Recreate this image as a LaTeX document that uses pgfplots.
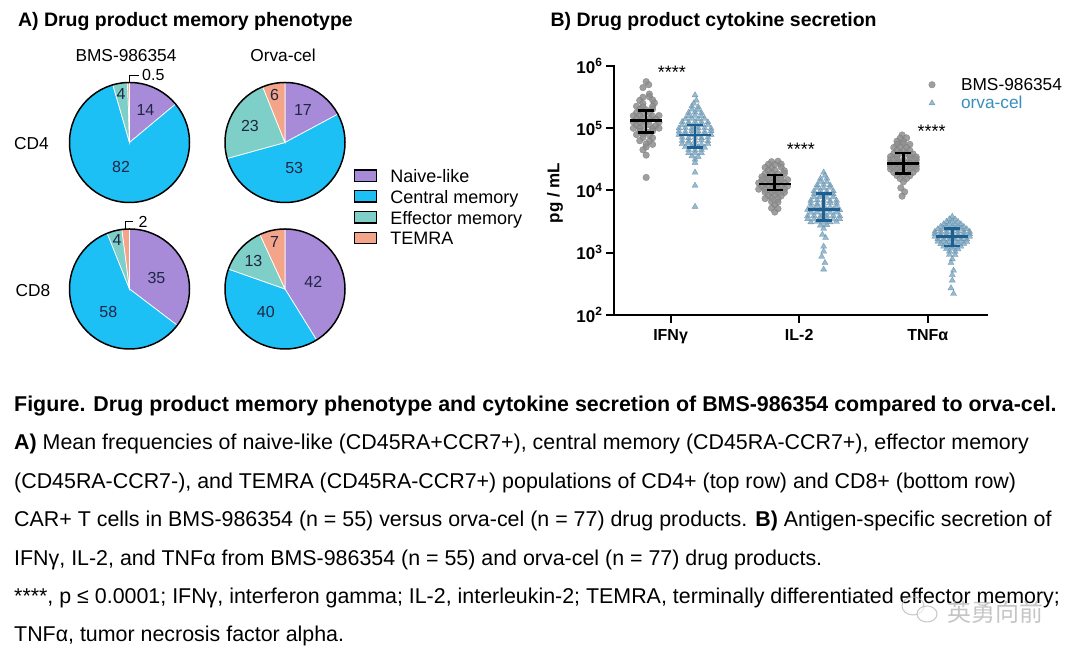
\documentclass[border=0pt]{standalone}
\usepackage{pgfplots}
\pgfplotsset{compat=1.18}
\usepackage{fontspec}
\setmainfont{Liberation Sans}
\newfontfamily\cjk{Noto Sans CJK SC}
\definecolor{naive}{HTML}{A78BD9}
\definecolor{central}{HTML}{1DC0F4}
\definecolor{effector}{HTML}{7FCFC9}
\definecolor{temra}{HTML}{F4A488}
\definecolor{bmsgray}{HTML}{8E8E8E}
\definecolor{orvatri}{HTML}{7BA9C6}
\definecolor{orvabar}{HTML}{1E5F91}
\definecolor{orvatext}{HTML}{3A8EBB}
\definecolor{numtxt}{HTML}{1F2544}
\newcommand\slice[6]{\fill[#6, draw=white, line width=0.7pt] (axis cs:#1,#2) -- ++({90-(#3)/(#5)*360}:60pt) arc[start angle={90-(#3)/(#5)*360}, end angle={90-(#4)/(#5)*360}, radius=60pt] -- cycle;}
\newcommand\pie[6]{%
 \slice{#1}{#2}{0}{#3}{#3+#4+#5+#6}{naive}
 \slice{#1}{#2}{#3}{#3+#4}{#3+#4+#5+#6}{central}
 \slice{#1}{#2}{#3+#4}{#3+#4+#5}{#3+#4+#5+#6}{effector}
 \slice{#1}{#2}{#3+#4+#5}{#3+#4+#5+#6}{#3+#4+#5+#6}{temra}
 \draw[black, line width=1.5pt] (axis cs:#1,#2) circle[radius=60pt];}
\newcommand\fs[1]{\fontsize{#1}{#1}\selectfont}
\begin{document}
\begin{tikzpicture}
\useasboundingbox (0pt,0pt) rectangle (1080pt,660pt);
% ---------- panel A + caption (1 unit = 1pt) ----------
\begin{axis}[at={(0pt,0pt)}, anchor=south west, scale only axis, width=1080pt, height=660pt,
  xmin=0, xmax=1080, ymin=0, ymax=660, hide axis, clip=false,
  legend cell align=left,
  legend style={at={(axis description cs:0.3278,0.7434)}, anchor=north west, draw=none, fill=none,
    inner sep=0pt, outer sep=0pt, row sep=3.35pt, column sep=13pt, font=\fs{18},
    nodes={inner sep=0pt, text height=13pt, text depth=4pt}},
  legend image code/.code={\draw[#1, line width=1.4pt] (0pt,-3.2pt) rectangle (22pt,8.2pt);}]
\addlegendimage{fill=naive, draw=black}
\addlegendentry{Naive-like}
\addlegendimage{fill=central, draw=black}
\addlegendentry{Central memory}
\addlegendimage{fill=effector, draw=black}
\addlegendentry{Effector memory}
\addlegendimage{fill=temra, draw=black}
\addlegendentry{TEMRA}
% pies: naive, central memory, effector memory, TEMRA (%)
\pie{129.5}{517.5}{14}{82}{4}{0.5}
\pie{285}{517.5}{17}{53}{23}{6}
\pie{129.5}{371}{35}{58}{4}{2}
\pie{285}{371}{42}{40}{13}{7}
% titles
\node[anchor=base west, font=\bfseries\fs{19.5}] at (axis cs:14.5,633) {A) Drug product memory phenotype};
\node[anchor=base west, font=\bfseries\fs{19.5}] at (axis cs:547,633) {B) Drug product cytokine secretion};
\node[anchor=base, font=\fs{17.3}] at (axis cs:126,598.8) {BMS-986354};
\node[anchor=base, font=\fs{17.3}] at (axis cs:283,598.8) {Orva-cel};
\node[anchor=base, font=\fs{17.3}] at (axis cs:31.5,510.9) {CD4};
\node[anchor=base, font=\fs{17.3}] at (axis cs:33,363.9) {CD8};
% pie numbers
\begin{scope}[every node/.style={font=\fs{16}, text=numtxt, inner sep=0pt}]
\node at (axis cs:145.4,550) {14};
\node at (axis cs:121.1,493) {82};
\node at (axis cs:121.1,566) {4};
\node at (axis cs:274.5,565) {6};
\node at (axis cs:302.9,550) {17};
\node at (axis cs:250,534) {23};
\node at (axis cs:294.2,492) {53};
\node at (axis cs:117,420) {4};
\node at (axis cs:156.5,382) {35};
\node at (axis cs:108.3,348) {58};
\node at (axis cs:274.5,418) {7};
\node at (axis cs:253.4,399) {13};
\node at (axis cs:313.3,378) {42};
\node at (axis cs:265.8,348) {40};
\end{scope}
\draw[line width=0.9pt] (axis cs:129.8,577) -- (axis cs:129.8,585) -- (axis cs:138.5,585);
\node[anchor=west, inner sep=0pt, font=\fs{16}] at (axis cs:142,585) {0.5};
\draw[line width=0.9pt] (axis cs:125.3,431) -- (axis cs:125.3,439) -- (axis cs:133.3,439);
\node[anchor=west, inner sep=0pt, font=\fs{16}] at (axis cs:138.5,438.5) {2};
% caption
\begin{scope}[every node/.style={anchor=base west, inner sep=0pt, font=\fs{21.4}}]
\node at (axis cs:14,248.5) {\textbf{Figure. Drug product memory phenotype and cytokine secretion of BMS-986354 compared to orva-cel.}};
\node at (axis cs:14,210.1) {\textbf{A)} Mean frequencies of naive-like (CD45RA+CCR7+), central memory (CD45RA-CCR7+), effector memory};
\node at (axis cs:14,171.7) {(CD45RA-CCR7-), and TEMRA (CD45RA-CCR7+) populations of CD4+ (top row) and CD8+ (bottom row)};
\node at (axis cs:14,133.3) {CAR+ T cells in BMS-986354 (n = 55) versus orva-cel (n = 77) drug products. \textbf{B)} Antigen-specific secretion of};
\node at (axis cs:14,94.9) {IFNγ, IL-2, and TNFα from BMS-986354 (n = 55) and orva-cel (n = 77) drug products.};
\node at (axis cs:14,56.5) {****, p ≤ 0.0001; IFNγ, interferon gamma; IL-2, interleukin-2; TEMRA, terminally differentiated effector memory;};
\node at (axis cs:14,18.1) {TNFα, tumor necrosis factor alpha.};
\end{scope}
% watermark
\draw[gray!55, line width=1pt, opacity=0.8] (axis cs:913,54) ellipse[x radius=11pt, y radius=9pt];
\draw[gray!55, line width=1pt, opacity=0.8, fill=white, fill opacity=0.6] (axis cs:927,46) ellipse[x radius=10pt, y radius=8pt];
\node[text=gray!60, opacity=0.75, font=\cjk\fs{24}] at (axis cs:995,48) {英勇向前};
\end{axis}
% ---------- panel B ----------
\begin{axis}[at={(614pt,345pt)}, anchor=south west, scale only axis, width=373pt, height=249pt,
  xmin=-0.44, xmax=2.46, ymode=log, ymin=1e2, ymax=1e6,
  axis lines=left, axis line style={-, line width=2.2pt, line cap=rect},
  xtick={0,1,2},
  xticklabels={{\bfseries IFN}γ, {\bfseries IL-2}, {\bfseries TNF}α},
  ytick={1e2,1e3,1e4,1e5,1e6},
  yticklabels={10\textsuperscript{2},10\textsuperscript{3},10\textsuperscript{4},10\textsuperscript{5},10\textsuperscript{6}},
  yminorticks=false,
  tick align=outside, major tick length=8pt, tick style={line width=2pt, black},
  xticklabel style={font=\bfseries\fs{16}, yshift=-3pt},
  yticklabel style={font=\bfseries\fs{17}},
  ylabel={pg / mL}, ylabel style={font=\bfseries\fs{17}, at={(axis description cs:-0.158,0.49)}, anchor=center},
  clip=false, clip marker paths=true, unbounded coords=jump,
  legend cell align=left,
  legend style={at={(axis description cs:0.8365,0.952)}, anchor=north west, draw=none, fill=none,
    inner sep=0pt, outer sep=0pt, row sep=2.4pt, column sep=23pt, font=\fs{17.3},
    nodes={inner sep=0pt, text height=12.5pt, text depth=3.5pt}},
  legend image code/.code={\path[draw=none, fill=none] (-6pt,-4pt) rectangle (6pt,6pt);\draw[#1] plot coordinates {(0pt,1.2pt)};},
  bms/.style={only marks, mark=*, mark size=3.3pt, mark options={fill=bmsgray, draw=bmsgray!85!black, line width=0.3pt, fill opacity=0.85, draw opacity=0.85}},
  orva/.style={only marks, mark=triangle*, mark size=3.5pt, mark options={fill=orvatri, draw=orvatri!80!black, line width=0.3pt, fill opacity=0.8, draw opacity=0.8}}
]
% IFNg BMS-986354
\addplot[bms] coordinates {
(-0.19,5.6e5) (-0.17,5.0e5) (-0.215,4.5e5) (-0.165,3.55e5)
(-0.215,3.15e5) (-0.165,3.2e5)
(-0.24,2.8e5) (-0.14,2.85e5)
(-0.215,2.5e5) (-0.125,2.55e5)
(-0.265,2.25e5) (-0.215,2.2e5) (-0.14,2.25e5)
(-0.24,2.0e5) (-0.19,1.97e5) (-0.14,2.02e5)
(-0.265,1.78e5) (-0.215,1.75e5) (-0.165,1.8e5)
(-0.29,1.58e5) (-0.24,1.6e5) (-0.14,1.56e5) (-0.09,1.6e5)
(-0.265,1.42e5) (-0.215,1.4e5) (-0.165,1.43e5) (-0.115,1.4e5)
(-0.29,1.26e5) (-0.24,1.25e5) (-0.19,1.28e5) (-0.09,1.25e5)
(-0.265,1.12e5) (-0.215,1.1e5) (-0.165,1.13e5) (-0.115,1.1e5)
(-0.29,1.0e5) (-0.24,1.0e5) (-0.14,0.98e5) (-0.09,1.0e5)
(-0.24,8.9e4) (-0.19,8.8e4) (-0.14,9.0e4)
(-0.265,7.9e4) (-0.215,8.0e4) (-0.165,7.8e4)
(-0.215,7.1e4) (-0.14,7.0e4)
(-0.24,6.3e4) (-0.165,6.2e4)
(-0.19,5.6e4) (-0.14,5.5e4)
(-0.19,5.0e4) (-0.215,4.5e4) (-0.19,3.7e4) (-0.19,1.62e4)};
\addlegendentry{BMS-986354}
% IFNg orva-cel
\addplot[orva] coordinates {
(0.19,3.4e5) (0.20,2.8e5) (0.18,2.5e5)
(0.165,2.25e5) (0.215,2.2e5)
(0.165,2.0e5) (0.215,1.98e5)
(0.14,1.78e5) (0.19,1.8e5) (0.24,1.76e5)
(0.14,1.58e5) (0.19,1.6e5) (0.24,1.57e5)
(0.115,1.41e5) (0.165,1.43e5) (0.215,1.4e5) (0.265,1.42e5)
(0.09,1.26e5) (0.14,1.25e5) (0.19,1.27e5) (0.24,1.26e5) (0.29,1.25e5)
(0.09,1.12e5) (0.14,1.13e5) (0.19,1.11e5) (0.24,1.12e5) (0.29,1.13e5)
(0.065,1.0e5) (0.115,1.01e5) (0.165,0.99e5) (0.215,1.0e5) (0.265,1.01e5) (0.315,0.99e5)
(0.065,8.9e4) (0.115,8.8e4) (0.165,9.0e4) (0.215,8.9e4) (0.265,8.8e4) (0.315,9.0e4)
(0.065,7.9e4) (0.115,8.0e4) (0.165,7.9e4) (0.215,7.8e4) (0.265,8.0e4) (0.315,7.9e4)
(0.09,7.1e4) (0.14,7.0e4) (0.19,7.1e4) (0.24,7.0e4) (0.29,7.1e4)
(0.09,6.3e4) (0.14,6.2e4) (0.19,6.3e4) (0.24,6.4e4) (0.29,6.2e4)
(0.09,5.6e4) (0.14,5.7e4) (0.19,5.6e4) (0.24,5.5e4) (0.29,5.6e4)
(0.115,5.0e4) (0.165,5.1e4) (0.215,5.0e4) (0.265,4.9e4)
(0.14,4.5e4) (0.19,4.4e4) (0.24,4.5e4)
(0.14,4.0e4) (0.19,3.95e4) (0.24,4.0e4)
(0.165,3.55e4) (0.215,3.5e4)
(0.19,3.15e4) (0.19,2.8e4) (0.19,1.95e4) (0.19,1.2e4) (0.19,5.5e3)};
\addlegendentry{\textcolor{orvatext}{orva-cel}}
% IL-2 BMS-986354
\addplot[bms, forget plot] coordinates {
(0.785,2.9e4) (0.835,2.95e4)
(0.76,2.63e4) (0.81,2.6e4) (0.86,2.65e4)
(0.735,2.34e4) (0.785,2.3e4) (0.86,2.36e4)
(0.76,2.09e4) (0.81,2.1e4) (0.885,2.07e4)
(0.735,1.86e4) (0.785,1.88e4) (0.835,1.85e4) (0.885,1.87e4)
(0.71,1.66e4) (0.76,1.65e4) (0.81,1.67e4) (0.86,1.66e4)
(0.71,1.48e4) (0.76,1.49e4) (0.81,1.47e4) (0.86,1.48e4) (0.91,1.49e4)
(0.685,1.32e4) (0.735,1.31e4) (0.785,1.33e4) (0.835,1.32e4) (0.885,1.31e4)
(0.71,1.17e4) (0.76,1.18e4) (0.81,1.16e4) (0.86,1.17e4) (0.91,1.18e4)
(0.685,1.05e4) (0.735,1.04e4) (0.785,1.06e4) (0.835,1.05e4) (0.885,1.04e4)
(0.735,9.3e3) (0.785,9.4e3) (0.835,9.2e3) (0.885,9.3e3)
(0.76,8.3e3) (0.81,8.4e3) (0.86,8.2e3)
(0.735,7.4e3) (0.785,7.5e3) (0.835,7.3e3)
(0.785,6.6e3) (0.835,6.5e3)
(0.81,5.9e3)
(0.785,5.2e3) (0.835,5.1e3)
(0.81,4.5e3)};
% IL-2 orva-cel
\addplot[orva, forget plot] coordinates {
(1.19,1.95e4) (1.20,1.74e4)
(1.165,1.55e4) (1.215,1.56e4)
(1.165,1.38e4) (1.215,1.37e4)
(1.14,1.23e4) (1.19,1.24e4) (1.24,1.22e4)
(1.14,1.10e4) (1.19,1.09e4) (1.24,1.11e4)
(1.115,9.8e3) (1.165,9.9e3) (1.215,9.7e3) (1.265,9.8e3)
(1.115,8.7e3) (1.165,8.6e3) (1.215,8.8e3) (1.265,8.7e3)
(1.115,7.8e3) (1.165,7.9e3) (1.215,7.7e3) (1.265,7.8e3)
(1.09,6.9e3) (1.14,7.0e3) (1.19,6.9e3) (1.24,6.8e3) (1.29,6.9e3)
(1.09,6.2e3) (1.14,6.1e3) (1.19,6.2e3) (1.24,6.3e3) (1.29,6.2e3)
(1.09,5.5e3) (1.14,5.6e3) (1.19,5.5e3) (1.24,5.4e3) (1.29,5.5e3)
(1.065,4.9e3) (1.115,4.95e3) (1.165,4.85e3) (1.215,4.9e3) (1.265,4.95e3) (1.315,4.85e3)
(1.09,4.4e3) (1.14,4.45e3) (1.19,4.35e3) (1.24,4.4e3) (1.29,4.45e3)
(1.065,3.9e3) (1.115,3.95e3) (1.165,3.85e3) (1.215,3.9e3) (1.265,3.95e3) (1.315,3.9e3)
(1.065,3.5e3) (1.115,3.45e3) (1.165,3.55e3) (1.215,3.5e3) (1.265,3.45e3) (1.315,3.5e3)
(1.09,3.1e3) (1.14,3.15e3) (1.19,3.05e3) (1.24,3.1e3) (1.29,3.15e3)
(1.165,2.75e3) (1.215,2.8e3)
(1.19,2.45e3)
(1.18,1.95e3) (1.205,1.74e3) (1.19,1.26e3) (1.19,1.05e3) (1.175,8.7e2) (1.20,6.9e2) (1.19,5.4e2)};
% TNFa BMS-986354
\addplot[bms, forget plot] coordinates {
(1.80,7.8e4)
(1.785,6.9e4) (1.835,7.0e4)
(1.76,6.2e4) (1.81,6.1e4)
(1.76,5.5e4) (1.81,5.6e4) (1.86,5.5e4)
(1.735,4.9e4) (1.785,5.0e4) (1.835,4.9e4)
(1.76,4.4e4) (1.81,4.35e4) (1.86,4.4e4)
(1.735,3.9e4) (1.785,3.95e4) (1.835,3.9e4) (1.885,3.85e4)
(1.71,3.5e4) (1.76,3.45e4) (1.86,3.5e4) (1.91,3.45e4)
(1.71,3.1e4) (1.76,3.12e4) (1.81,3.08e4) (1.86,3.1e4) (1.91,3.12e4)
(1.71,2.75e4) (1.76,2.73e4) (1.81,2.77e4) (1.86,2.75e4) (1.91,2.74e4)
(1.71,2.45e4) (1.76,2.47e4) (1.81,2.44e4) (1.86,2.46e4) (1.91,2.45e4)
(1.71,2.2e4) (1.76,2.18e4) (1.81,2.21e4) (1.86,2.19e4) (1.91,2.2e4)
(1.735,1.95e4) (1.785,1.96e4) (1.835,1.94e4) (1.885,1.95e4)
(1.76,1.74e4) (1.81,1.75e4) (1.86,1.73e4)
(1.785,1.55e4) (1.835,1.56e4)
(1.81,1.38e4)
(1.79,1.1e4) (1.82,9.5e3) (1.80,8.1e3)};
% TNFa orva-cel
\addplot[orva, forget plot] coordinates {
(2.19,3.8e3)
(2.1675,3.47e3) (2.2125,3.45e3)
(2.145,3.16e3) (2.19,3.18e3) (2.235,3.15e3)
(2.1225,2.88e3) (2.1675,2.9e3) (2.2125,2.86e3) (2.2575,2.88e3)
(2.10,2.63e3) (2.145,2.62e3) (2.19,2.64e3) (2.235,2.63e3) (2.28,2.61e3)
(2.0775,2.4e3) (2.1225,2.41e3) (2.1675,2.39e3) (2.2125,2.4e3) (2.2575,2.42e3) (2.3025,2.4e3)
(2.055,2.19e3) (2.10,2.2e3) (2.145,2.18e3) (2.19,2.19e3) (2.235,2.21e3) (2.28,2.19e3) (2.325,2.18e3)
(2.055,2.0e3) (2.10,1.99e3) (2.145,2.01e3) (2.19,2.0e3) (2.235,1.99e3) (2.28,2.01e3) (2.325,2.0e3)
(2.055,1.82e3) (2.10,1.83e3) (2.145,1.81e3) (2.19,1.82e3) (2.235,1.83e3) (2.28,1.81e3) (2.325,1.82e3)
(2.0775,1.66e3) (2.1225,1.67e3) (2.1675,1.65e3) (2.2125,1.66e3) (2.2575,1.67e3) (2.3025,1.65e3)
(2.0775,1.51e3) (2.1225,1.52e3) (2.1675,1.5e3) (2.2125,1.51e3) (2.2575,1.52e3) (2.3025,1.5e3)
(2.10,1.38e3) (2.145,1.39e3) (2.19,1.37e3) (2.235,1.38e3) (2.28,1.39e3)
(2.1225,1.26e3) (2.1675,1.27e3) (2.2125,1.25e3) (2.2575,1.26e3)
(2.145,1.15e3) (2.19,1.16e3) (2.235,1.14e3)
(2.1675,1.05e3) (2.2125,1.04e3)
(2.1675,9.3e2) (2.2125,9.2e2)
(2.19,7.9e2) (2.18,6.9e2) (2.20,5.2e2) (2.19,4.4e2) (2.19,3.6e2) (2.18,2.7e2) (2.20,2.2e2)};
% median and interquartile range
\addplot[black, line width=2.6pt, forget plot] coordinates {
(-0.314,1.32e5) (-0.066,1.32e5) (-0.19,nan) (-0.252,1.91e5) (-0.128,1.91e5) (-0.19,nan)
(-0.252,8.5e4) (-0.128,8.5e4) (-0.19,nan) (-0.19,8.5e4) (-0.19,1.91e5)};
\addplot[black, line width=2.6pt, forget plot] coordinates {
(0.686,1.27e4) (0.934,1.27e4) (0.81,nan) (0.748,1.78e4) (0.872,1.78e4) (0.81,nan)
(0.748,1.02e4) (0.872,1.02e4) (0.81,nan) (0.81,1.02e4) (0.81,1.78e4)};
\addplot[black, line width=2.6pt, forget plot] coordinates {
(1.686,2.74e4) (1.934,2.74e4) (1.81,nan) (1.748,4.0e4) (1.872,4.0e4) (1.81,nan)
(1.748,1.89e4) (1.872,1.89e4) (1.81,nan) (1.81,1.89e4) (1.81,4.0e4)};
\addplot[orvabar, line width=2.6pt, forget plot] coordinates {
(0.066,7.8e4) (0.314,7.8e4) (0.19,nan) (0.128,1.13e5) (0.252,1.13e5) (0.19,nan)
(0.128,4.9e4) (0.252,4.9e4) (0.19,nan) (0.19,4.9e4) (0.19,1.13e5)};
\addplot[orvabar, line width=2.6pt, forget plot] coordinates {
(1.066,4.9e3) (1.314,4.9e3) (1.19,nan) (1.128,9.0e3) (1.252,9.0e3) (1.19,nan)
(1.128,3.27e3) (1.252,3.27e3) (1.19,nan) (1.19,3.27e3) (1.19,9.0e3)};
\addplot[orvabar, line width=2.6pt, forget plot] coordinates {
(2.066,1.81e3) (2.314,1.81e3) (2.19,nan) (2.128,2.45e3) (2.252,2.45e3) (2.19,nan)
(2.128,1.29e3) (2.252,1.29e3) (2.19,nan) (2.19,1.29e3) (2.19,2.45e3)};
% significance
\node[anchor=base, font=\fs{18}] at (axis cs:0.01,6.2e5) {****};
\node[anchor=base, font=\fs{18}] at (axis cs:1.012,3.7e4) {****};
\node[anchor=base, font=\fs{18}] at (axis cs:2.03,7.2e4) {****};
\end{axis}
\end{tikzpicture}
\end{document}
